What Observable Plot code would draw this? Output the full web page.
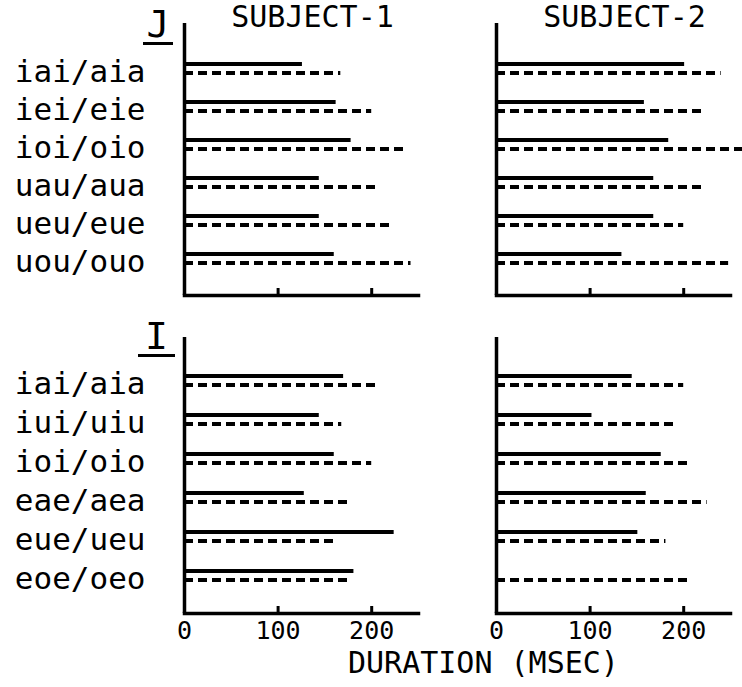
<!DOCTYPE html>
<html>
<head>
<meta charset="utf-8">
<script src="https://cdn.jsdelivr.net/npm/d3@7"></script>
<script src="https://cdn.jsdelivr.net/npm/@observablehq/plot@0.6"></script>
<style>
  body { margin: 0; background: #fff; }
  #wrap { position: relative; width: 742px; height: 687px; background: #fff; font-family: "DejaVu Sans Mono", monospace; color: #000; }
  #wrap svg { display: block; }
  .ttl { position: absolute; text-align: center; font-size: 38px; line-height: 36px; border-bottom: 3px solid #000; }
  #xlab { position: absolute; left: 348px; top: 651px; font-size: 30px; line-height: 24px; white-space: nowrap; }
</style>
</head>
<body>
<div id="wrap">
  <div id="top"></div>
  <div id="bottom"></div>
  <div class="ttl" style="left:143px; top:6px; width:30px;">J</div>
  <div class="ttl" style="left:138px; top:318px; width:37px;">I</div>
  <div id="xlab">DURATION (MSEC)</div>
</div>
<script>
// ---- data (durations in msec) ----
const subjects = ["SUBJECT-1", "SUBJECT-2"];
const xTicks = [0, 100, 200];

const jCats = ["iai/aia", "iei/eie", "ioi/oio", "uau/aua", "ueu/eue", "uou/ouo"];
const jS1Solid  = [126, 162, 178, 144, 144, 160];
const jS1Dashed = [167, 200, 234, 208, 220, 242];
const jS2Solid  = [201, 158, 184, 168, 168, 134];
const jS2Dashed = [240, 220, 263, 221, 200, 248];

const iCats = ["iai/aia", "iui/uiu", "ioi/oio", "eae/aea", "eue/ueu", "eoe/oeo"];
const iS1Solid  = [170, 144, 160, 128, 224, 181];
const iS1Dashed = [207, 168, 200, 177, 160, 175];
const iS2Solid  = [145, 102, 176, 160, 151, null];
const iS2Dashed = [200, 191, 207, 225, 181, 206];

function build(cats, s1s, s1d, s2s, s2d) {
  const rows = [];
  cats.forEach((c, i) => {
    rows.push({subject: subjects[0], cat: c, solid: s1s[i], dashed: s1d[i]});
    rows.push({subject: subjects[1], cat: c, solid: s2s[i], dashed: s2d[i]});
  });
  return rows;
}

const jRows = build(jCats, jS1Solid, jS1Dashed, jS2Solid, jS2Dashed);
const iRows = build(iCats, iS1Solid, iS1Dashed, iS2Solid, iS2Dashed);

function rowPlot({rows, cats, height, marginTop, marginBottom, insetTop, insetBottom, showSubjects, showTickLabels}) {
  const frameH = height - marginTop - marginBottom;
  const marks = [
    Plot.ruleX([0], {stroke: "#000", strokeWidth: 3.5}),
    Plot.frame({anchor: "bottom", stroke: "#000", strokeWidth: 3.5}),
    Plot.ruleX(xTicks.filter(d => d > 0), {stroke: "#000", strokeWidth: 3, insetTop: frameH - 7}),
    Plot.ruleY(rows.filter(d => d.solid != null), {fx: "subject", y: "cat", x1: 0, x2: "solid", dy: -4.5, stroke: "#000", strokeWidth: 3.8}),
    Plot.ruleY(rows.filter(d => d.dashed != null), {fx: "subject", y: "cat", x1: 0, x2: "dashed", dy: 4.5, stroke: "#000", strokeWidth: 4, strokeDasharray: "9,5"}),
    Plot.axisY({tickSize: 0, tickPadding: 39, fontSize: 31, dy: 4, label: null})
  ];
  if (showSubjects) {
    marks.push(Plot.text(subjects, {fx: d => d, text: d => d, frameAnchor: "top", dx: 11, dy: -6, lineAnchor: "middle", fontSize: 30}));
  }
  if (showTickLabels) {
    marks.push(Plot.axisX({ticks: xTicks, tickSize: 0, tickPadding: 8, fontSize: 25, label: null}));
  }
  return Plot.plot({
    width: 742, height, marginTop, marginBottom, marginLeft: 184, marginRight: 12,
    style: {fontFamily: "DejaVu Sans Mono", color: "#000", background: "#fff", overflow: "visible"},
    fx: {domain: subjects, paddingInner: 0.25, paddingOuter: 0, axis: null, label: null},
    x: {domain: [0, 250], axis: null},
    y: {type: "point", domain: cats, padding: 0, insetTop, insetBottom, axis: null},
    marks
  });
}

document.getElementById("top").appendChild(rowPlot({
  rows: jRows, cats: jCats, height: 305, marginTop: 23, marginBottom: 10,
  insetTop: 43.5, insetBottom: 35, showSubjects: true, showTickLabels: false
}));
document.getElementById("bottom").appendChild(rowPlot({
  rows: iRows, cats: iCats, height: 382, marginTop: 32, marginBottom: 74,
  insetTop: 41.5, insetBottom: 37.5, showSubjects: false, showTickLabels: true
}));
</script>
</body>
</html>
